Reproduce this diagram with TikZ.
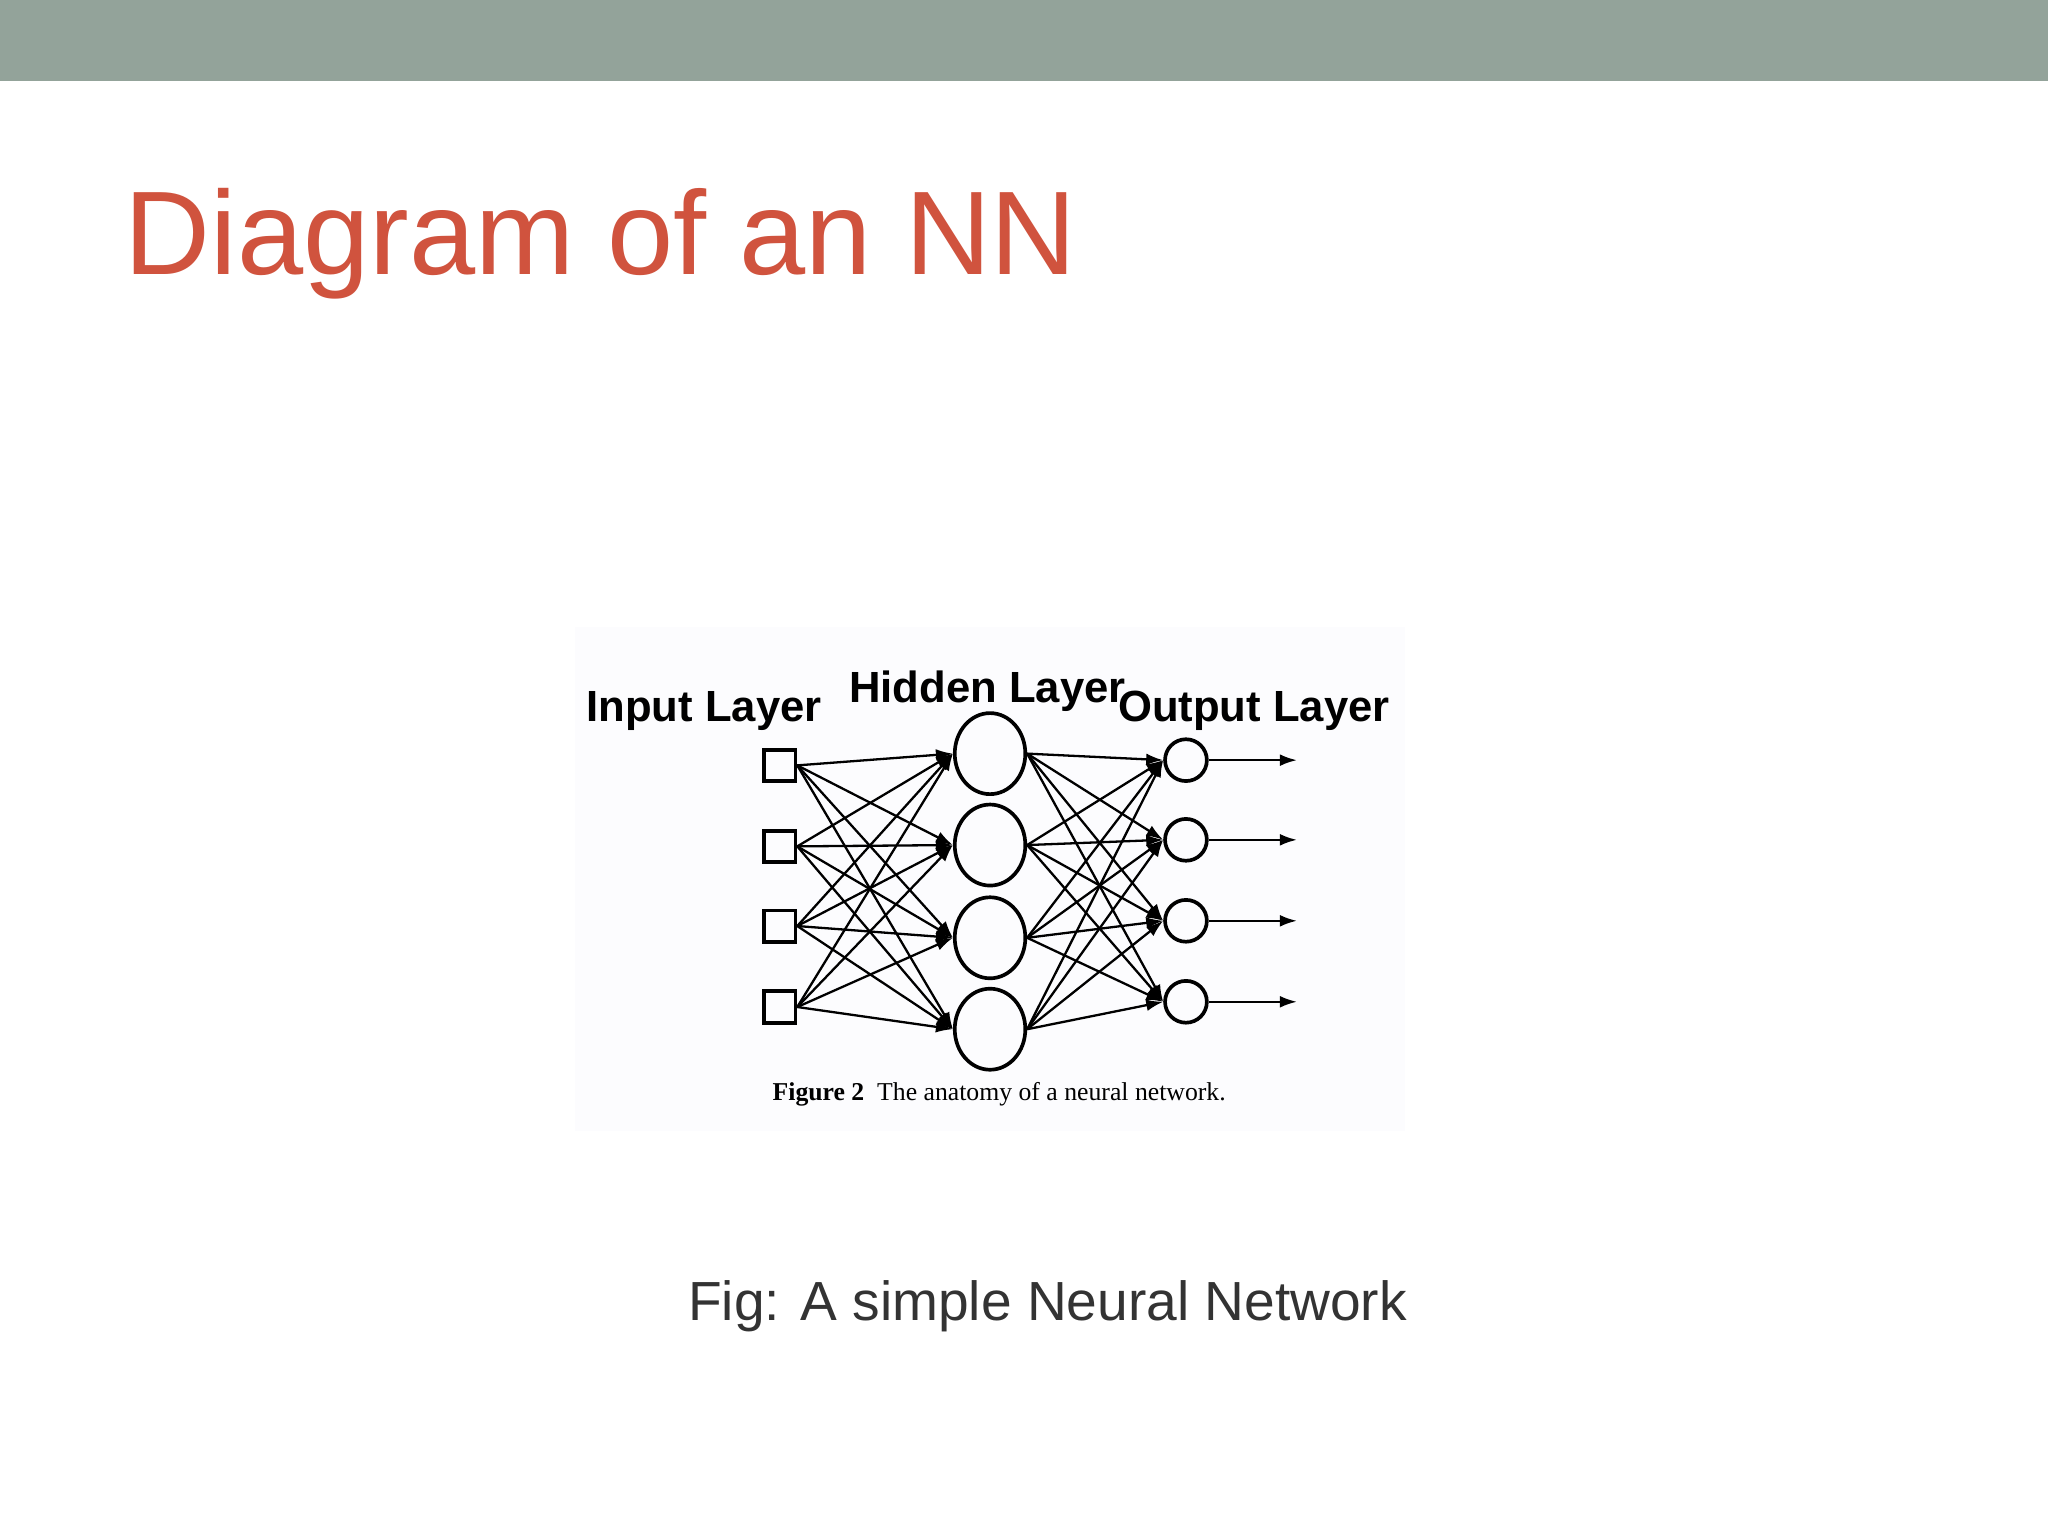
\documentclass[tikz,border=0pt]{standalone}
\usepackage{fontspec}
\setmainfont{Liberation Sans}
\newfontfamily\serifc{Liberation Serif}
\usetikzlibrary{arrows.meta}
\definecolor{barc}{HTML}{93A39A}
\definecolor{titlec}{HTML}{D0533E}
\definecolor{boxc}{HTML}{FCFCFE}
\definecolor{textc}{HTML}{333333}
\tikzset{
 inp/.style={draw,thick,minimum size=0.24cm,inner sep=0pt},
 hid/.style={draw,thick,ellipse,minimum width=0.54cm,minimum height=0.62cm,inner sep=0pt},
 outn/.style={draw,thick,circle,minimum size=0.32cm,inner sep=0pt},
 conn/.style={-{Latex[length=0.13cm,width=0.09cm]},line width=0.5pt},
 lbl/.style={font=\fontsize{9.5}{11}\selectfont\bfseries},
}
\usetikzlibrary{shapes.geometric}
\begin{document}
\begin{tikzpicture}[x=0.01cm,y=-0.01cm]
\useasboundingbox (0,0) rectangle (1568,1176);
\fill[white] (0,0) rectangle (1568,1176);
\fill[barc] (0,0) rectangle (1568,62);
\node[anchor=base west,text=titlec,inner sep=0,font=\fontsize{25.9}{30}\selectfont] (title) at (95,210) {Diagram of an NN};
\fill[boxc] (440,480) rectangle (1076,866);
\foreach \i/\y in {1/586,2/648,3/709,4/771} \node[inp] (i\i) at (597,\y) {};
\foreach \i/\y in {1/577,2/647,3/718,4/788} \node[hid] (h\i) at (758,\y) {};
\foreach \i/\y in {1/582,2/643,3/705,4/767} {\node[outn] (o\i) at (908,\y) {};
 \coordinate (e\i) at (993,\y);
 \draw[conn] (o\i) -- (e\i);}
\foreach \a in {1,...,4}\foreach \b in {1,...,4}{
 \draw[conn] (i\a.east) -- (h\b.west);
 \draw[conn] (h\a.east) -- (o\b.west);}
\node[lbl] (li) at (539,544) {Input Layer};
\node[lbl] (lh) at (756,529) {Hidden Layer};
\node[lbl] (lo) at (960,544) {Output Layer};
\node[font=\serifc\fontsize{5.6}{7}\selectfont] (cap) at (765,838) {\textbf{Figure 2}\ \ The anatomy of a neural network.};
\node[text=textc,font=\fontsize{12}{14}\selectfont] (fig) at (802,1000) {Fig: A simple Neural Network};
\end{tikzpicture}
\end{document}
